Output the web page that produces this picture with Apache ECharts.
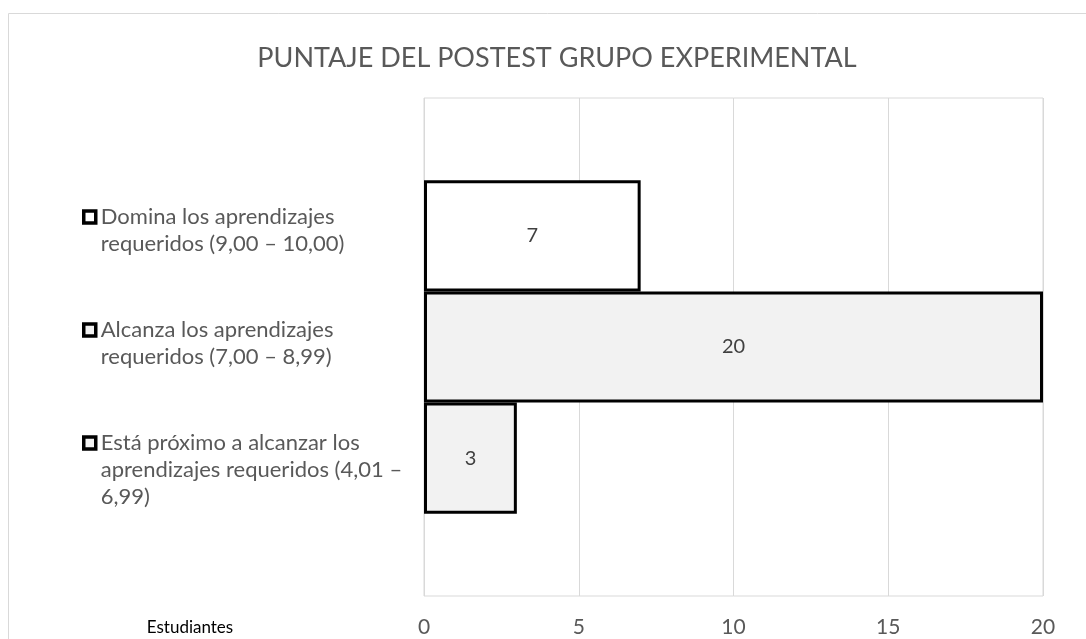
<!DOCTYPE html>
<html>
<head>
<meta charset="utf-8">
<script src="https://cdn.jsdelivr.net/npm/echarts@6/dist/echarts.min.js"></script>
<style>
    html, body { margin: 0; padding: 0; background: #fff; }
    #main { width: 1086px; height: 639px; }
</style>
</head>
<body>
<div id="main"></div>
<script>
// datos del grafico
var categories = ['Estudiantes'];
var seriesNames = [
    'Domina los aprendizajes requeridos (9,00 – 10,00)',
    'Alcanza los aprendizajes requeridos (7,00 – 8,99)',
    'Está próximo a alcanzar los aprendizajes requeridos (4,01 – 6,99)'
];
// nombres partidos en lineas para la leyenda
var legendLines = [
    ['Domina los aprendizajes', 'requeridos (9,00 – 10,00)'],
    ['Alcanza los aprendizajes', 'requeridos (7,00 – 8,99)'],
    ['Está próximo a alcanzar los', 'aprendizajes requeridos (4,01 –', '6,99)']
];
var seriesValues = [7, 20, 3];
var seriesFills = ['#ffffff', '#f2f2f2', '#f2f2f2'];
var xTicks = [0, 5, 10, 15, 20];

var fontName = 'Lato';
var textColor = '#595959';
var lineH = 27;
var iconSize = 12;

var myChart = echarts.init(document.getElementById('main'));

var series = seriesNames.map(function (name, i) {
    return {
        name: name,
        type: 'bar',
        barGap: '0%',
        barCategoryGap: '33%',
        data: [seriesValues[i]],
        itemStyle: {
            color: seriesFills[i],
            borderColor: '#000',
            borderWidth: 3
        },
        label: {
            show: true,
            position: 'inside',
            color: '#404040',
            fontFamily: fontName,
            fontSize: 20
        }
    };
});

// una leyenda por serie; se anteponen lineas vacias para que el icono
// quede a la altura de la primera linea
var iconCenters = [217, 330, 443];
var legends = seriesNames.map(function (name, i) {
    var lines = legendLines[i];
    var n = lines.length;
    var pad = [];
    for (var k = 0; k < n - 1; k++) pad.push('');
    var txt = pad.concat(lines).join('\n');
    return {
        orient: 'vertical',
        left: 82,
        top: iconCenters[i] - lineH * (2 * n - 1) / 2,
        padding: 0,
        itemWidth: iconSize,
        itemHeight: iconSize,
        icon: 'path://M0,0L10,0L10,10L0,10Z',
        symbolKeepAspect: true,
        itemStyle: { color: seriesFills[i], borderColor: '#000', borderWidth: 3.5 },
        data: [name],
        formatter: function () { return txt; },
        textStyle: {
            color: textColor,
            fontFamily: fontName,
            fontSize: 22,
            lineHeight: lineH
        }
    };
});

myChart.setOption({
    animation: false,
    title: {
        text: 'PUNTAJE DEL POSTEST GRUPO EXPERIMENTAL',
        left: 552,
        textAlign: 'center',
        top: 40,
        textStyle: {
            color: textColor,
            fontFamily: fontName,
            fontWeight: 'normal',
            fontSize: 27
        }
    },
    graphic: [{
        type: 'rect',
        shape: { x: 8.5, y: 13.5, width: 1200, height: 800 },
        style: { fill: 'none', stroke: '#d9d9d9', lineWidth: 1 },
        z: -1
    }],
    legend: legends,
    grid: {
        left: 424,
        right: 43,
        top: 98,
        bottom: 43,
        show: true,
        borderColor: '#d9d9d9',
        borderWidth: 1
    },
    xAxis: {
        type: 'value',
        min: xTicks[0],
        max: xTicks[xTicks.length - 1],
        interval: xTicks[1] - xTicks[0],
        axisLine: { show: false },
        axisTick: { show: false },
        splitLine: { lineStyle: { color: '#d9d9d9', width: 1 } },
        axisLabel: {
            color: textColor,
            fontFamily: fontName,
            fontSize: 21,
            margin: 21
        }
    },
    yAxis: {
        type: 'category',
        data: categories,
        axisLine: { show: false },
        axisTick: { show: false },
        axisLabel: { show: false },
        name: categories[0],
        nameLocation: 'start',
        nameGap: 32,
        nameTextStyle: {
            color: '#000',
            fontFamily: fontName,
            fontSize: 17,
            align: 'center',
            verticalAlign: 'middle',
            padding: [0, 468, 0, 0]
        }
    },
    series: series
});
</script>
</body>
</html>
